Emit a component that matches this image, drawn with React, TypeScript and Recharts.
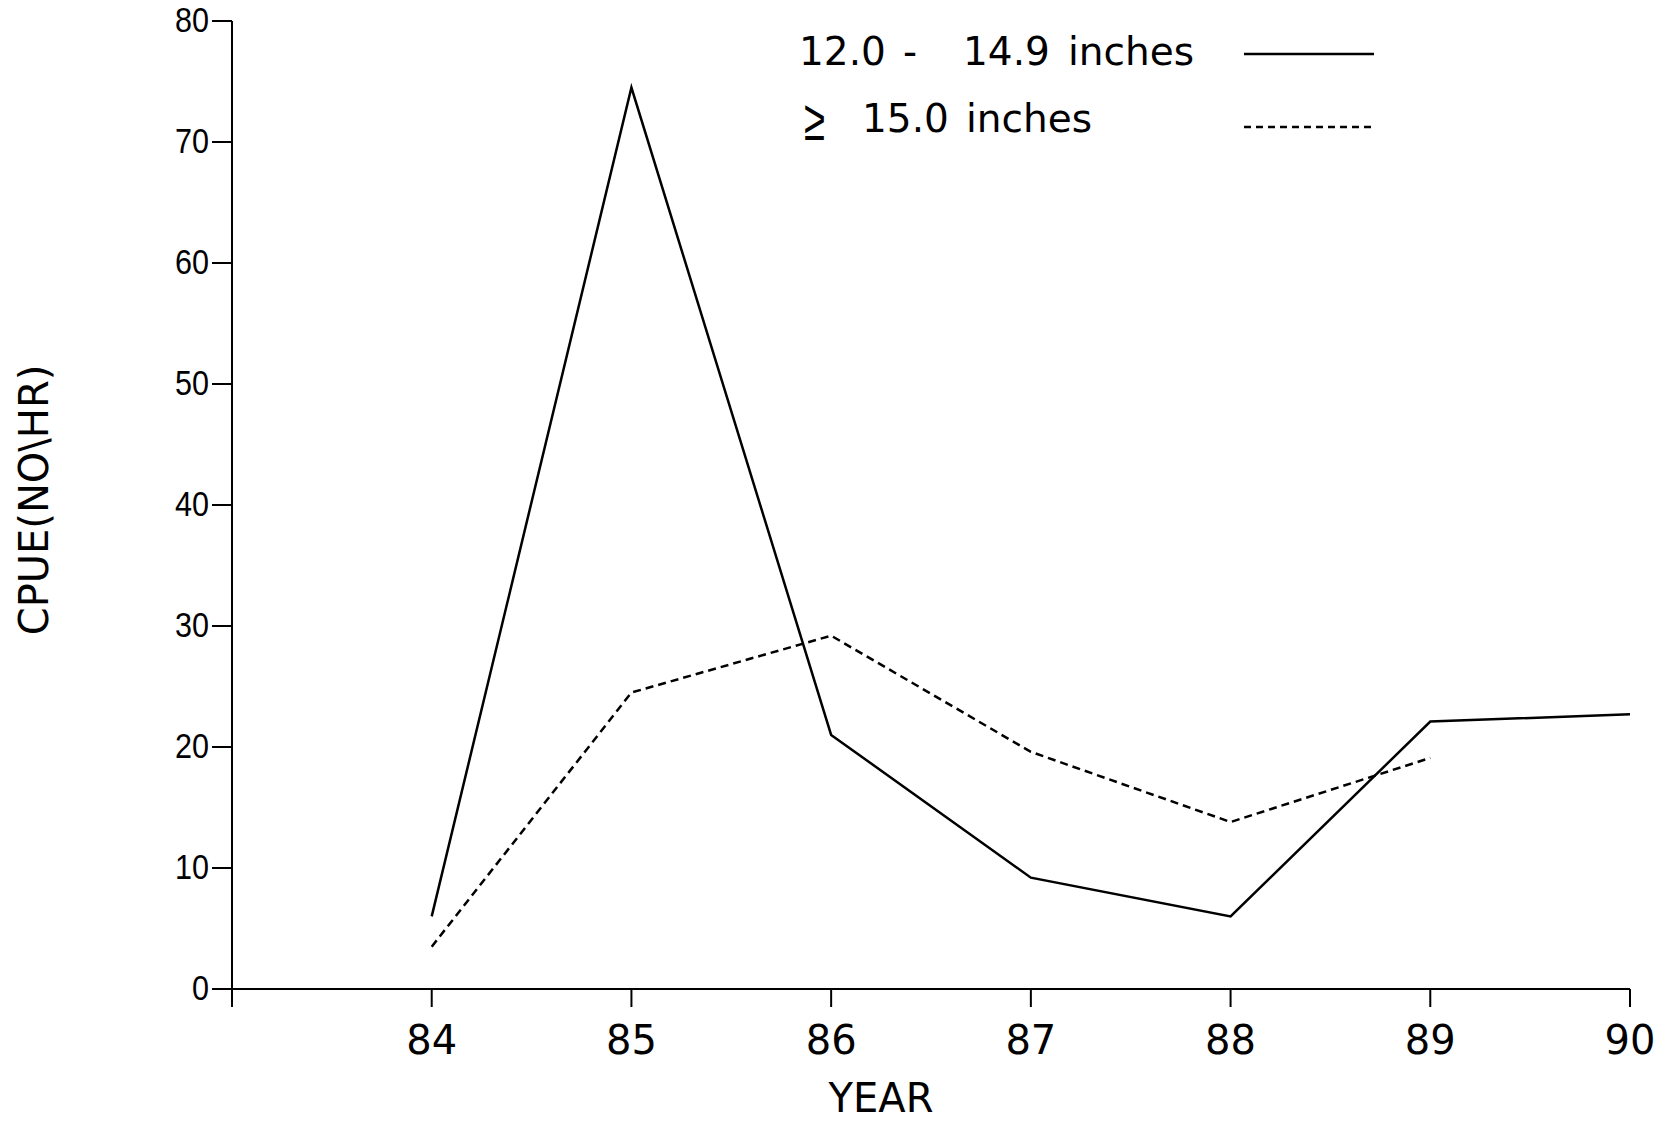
import React from 'react';
import { LineChart, Line, XAxis, YAxis, Legend } from 'recharts';

const years = [84, 85, 86, 87, 88, 89, 90];
const smallFish = [6.0, 74.5, 21.0, 9.2, 6.0, 22.1, 22.7];
const largeFish = [3.5, 24.5, 29.2, 19.6, 13.8, 19.1, null];
const xTicks = [83, 84, 85, 86, 87, 88, 89, 90];
const yTicks = [0, 10, 20, 30, 40, 50, 60, 70, 80];
const seriesNames = ['12.0 - 14.9 inches', '≥ 15.0 inches'];

const data = years.map((y, i) => ({ year: y, small: smallFish[i], large: largeFish[i] }));

const FONT = "'DejaVu Sans', sans-serif";
const LIB = "'Liberation Sans', Arial, sans-serif";

const XTick = (props: any) => {
  const { x, y, payload } = props;
  if (payload.value === 83) return null;
  return (
    <text x={x} y={y} dy={47} textAnchor="middle" fontFamily={FONT} fontSize={40} fill="#000">
      {payload.value}
    </text>
  );
};

const YTick = (props: any) => {
  const { x, y, payload } = props;
  const label = String(payload.value);
  return (
    <text
      x={x}
      y={y}
      dy="0.32em"
      textAnchor="end"
      fontFamily={LIB}
      fontSize={35}
      fill="#000"
      textLength={label.length * 17}
      lengthAdjust="spacingAndGlyphs"
    >
      {label}
    </text>
  );
};

const LegendContent = () => (
  <svg width={1670} height={160} style={{ position: 'absolute', left: 0, top: 0 }}>
    <text y={65} fontFamily={FONT} fontSize={39} fill="#000">
      <tspan x={799}>12.0 </tspan>
      <tspan x={903}>- </tspan>
      <tspan x={963}>14.9 </tspan>
      <tspan x={1068}>inches</tspan>
    </text>
    <line x1={1244} y1={54} x2={1374} y2={54} stroke="#000" strokeWidth={2.5} />
    <text x={804} y={140} fontFamily={LIB} fontSize={58} fill="#000" textLength={21} lengthAdjust="spacingAndGlyphs">
      ≥
    </text>
    <text y={132} fontFamily={FONT} fontSize={39} fill="#000">
      <tspan x={862}>15.0 </tspan>
      <tspan x={966}>inches</tspan>
    </text>
    <line x1={1244} y1={127} x2={1374} y2={127} stroke="#000" strokeWidth={2.5} strokeDasharray="7 5" />
  </svg>
);

export default function App() {
  return (
    <div style={{ position: 'absolute', left: 0, top: 0, width: 1670, height: 1121, background: '#fff' }}>
      <LineChart width={1670} height={1121} data={data} margin={{ top: 21, right: 40, bottom: 0, left: 0 }}>
        <XAxis
          dataKey="year"
          type="number"
          domain={[83, 90]}
          ticks={xTicks}
          allowDataOverflow
          height={132}
          axisLine={{ stroke: '#000', strokeWidth: 2 }}
          tickLine={{ stroke: '#000', strokeWidth: 2 }}
          tickSize={18}
          tickMargin={0}
          tick={<XTick />}
          label={{
            value: 'YEAR',
            content: () => (
              <text x={881} y={1112} textAnchor="middle" fontFamily={FONT} fontSize={40} fill="#000">
                YEAR
              </text>
            ),
          }}
        />
        <YAxis
          type="number"
          domain={[0, 80]}
          ticks={yTicks}
          width={232}
          axisLine={{ stroke: '#000', strokeWidth: 2 }}
          tickLine={{ stroke: '#000', strokeWidth: 2 }}
          tickSize={20}
          tickMargin={3}
          tick={<YTick />}
          label={{
            value: 'CPUE(NO\\HR)',
            content: () => (
              <text
                x={34}
                y={500}
                transform="rotate(-90 34 500)"
                textAnchor="middle"
                dominantBaseline="central"
                fontFamily={FONT}
                fontSize={40}
                fill="#000"
              >
                CPUE(NO\HR)
              </text>
            ),
          }}
        />
        <Legend
          layout="horizontal"
          verticalAlign="middle"
          align="center"
          content={<LegendContent />}
          wrapperStyle={{ position: 'absolute', left: 0, top: 0, width: 1670, height: 160 }}
        />
        <Line
          dataKey="small"
          name={seriesNames[0]}
          stroke="#000"
          strokeWidth={2.5}
          dot={false}
          activeDot={false}
          type="linear"
          isAnimationActive={false}
        />
        <Line
          dataKey="large"
          name={seriesNames[1]}
          stroke="#000"
          strokeWidth={2.5}
          strokeDasharray="8 5"
          dot={false}
          activeDot={false}
          type="linear"
          isAnimationActive={false}
        />
      </LineChart>
    </div>
  );
}
